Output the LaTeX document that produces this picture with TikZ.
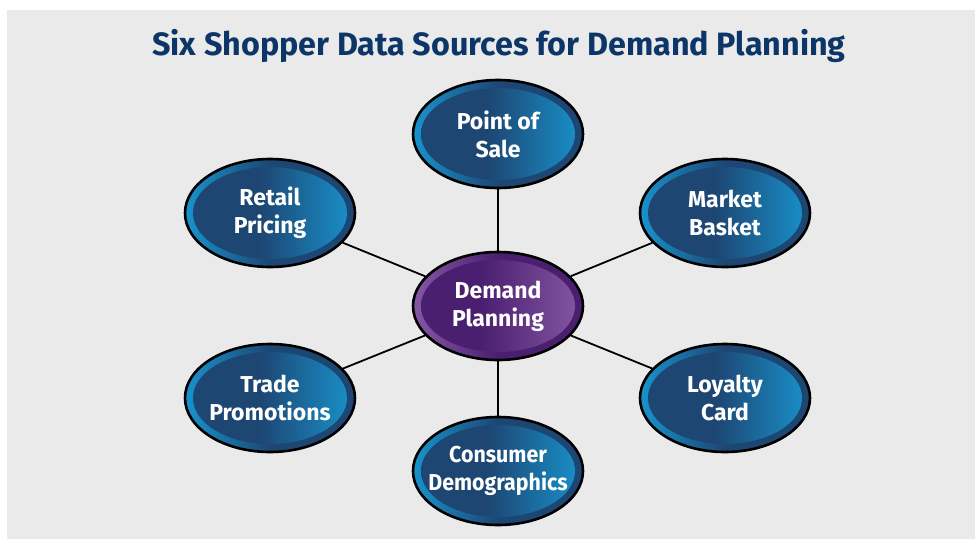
\documentclass[tikz,border=0pt]{standalone}
\usepackage{fontspec}
\setmainfont{Fira Sans}
\usetikzlibrary{shapes.geometric}
\definecolor{bgray}{HTML}{EAEAEA}
\definecolor{titleblue}{HTML}{0D3668}
\definecolor{bdark}{HTML}{1D4673}
\definecolor{blight}{HTML}{1893CC}
\definecolor{pdark}{HTML}{4B1F6F}
\definecolor{plight}{HTML}{8458A4}
\pgfdeclarehorizontalshading{innerblue}{100bp}{color(0bp)=(bdark); color(25bp)=(bdark); color(47bp)=(bdark); color(75bp)=(blight); color(100bp)=(blight)}
\pgfdeclarehorizontalshading{ringblue}{100bp}{color(0bp)=(blight); color(25bp)=(blight); color(50bp)=(bdark); color(75bp)=(bdark); color(100bp)=(bdark)}
\pgfdeclarehorizontalshading{innerpurple}{100bp}{color(0bp)=(pdark); color(25bp)=(pdark); color(45bp)=(pdark); color(75bp)=(plight); color(100bp)=(plight)}
\pgfdeclarehorizontalshading{ringpurple}{100bp}{color(0bp)=(plight); color(25bp)=(plight); color(50bp)=(pdark); color(75bp)=(pdark); color(100bp)=(pdark)}
\newcommand{\lbox}[1]{\makebox[60pt]{#1}}
\tikzset{
  src/.style={ellipse, minimum width=170pt, minimum height=108pt, inner sep=0pt,
    draw=black, line width=2.6pt, shade, shading=ringblue,
    path picture={\shade[shading=innerblue] (path picture bounding box.center) ellipse (77pt and 46pt);},
    text=white, align=center, font=\fontsize{23}{28}\selectfont\bfseries},
  hub/.style={src, shading=ringpurple,
    path picture={\shade[shading=innerpurple] (path picture bounding box.center) ellipse (77pt and 46pt);}},
  link/.style={draw=black, line width=1.8pt},
  ttl/.style={text=titleblue, font=\fontsize{32.3}{36}\selectfont\bfseries, inner sep=0pt}
}
\begin{document}
\begin{tikzpicture}[x=1pt, y=-1pt]
\useasboundingbox (0,0) rectangle (975,539);
\fill[white] (0,0) rectangle (975,539);
\fill[bgray] (7,10) rectangle (975,539);
\node[ttl] (title) at (499,46) {Six Shopper Data Sources for Demand Planning};
\node[hub] (dp) at (498,306) {\lbox{Demand}\\\lbox{Planning}};
\node[src] (pos) at (498,134) {\lbox{Point of}\\\lbox{Sale}};
\node[src] (rp) at (270,213) {\lbox{Retail}\\\lbox{Pricing}};
\node[src] (mb) at (725,213) {\lbox{Market}\\\lbox{Basket}};
\node[src] (tp) at (270,398) {\lbox{Trade}\\\lbox{Promotions}};
\node[src] (lc) at (725,398) {\lbox{Loyalty}\\\lbox{Card}};
\node[src] (cd) at (498,471) {\lbox{\scalebox{0.93}[1]{Consumer}}\\\lbox{\scalebox{0.93}[1]{Demographics}}};
\draw[link] (dp) -- (pos);
\draw[link] (dp) -- (rp);
\draw[link] (dp) -- (mb);
\draw[link] (dp) -- (tp);
\draw[link] (dp) -- (lc);
\draw[link] (dp) -- (cd);
\end{tikzpicture}
\end{document}
